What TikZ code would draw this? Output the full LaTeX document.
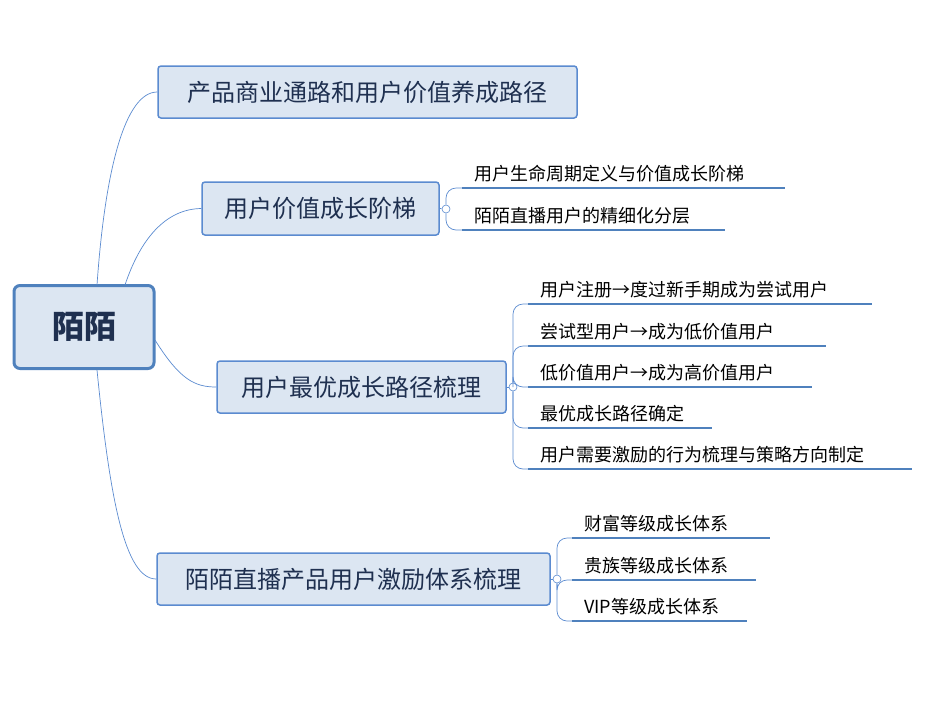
\documentclass[tikz,border=0pt]{standalone}
\usepackage{fontspec}
\setmainfont{Noto Sans CJK SC}
\definecolor{boxfill}{HTML}{DCE6F2}
\definecolor{boxline}{HTML}{5B8BD0}
\definecolor{rootline}{HTML}{4F81BD}
\definecolor{txt}{HTML}{1F3050}
\begin{document}
\begin{tikzpicture}[x=1pt,y=-1pt,
  l1/.style={draw=boxline,line width=1.5pt,fill=boxfill,rounded corners=3pt,inner sep=0pt,font=\fontsize{24}{26}\selectfont,text=txt},
  leaf/.style={anchor=base west,inner sep=0pt,font=\fontsize{18}{20}\selectfont,text=black},
  uline/.style={draw=rootline,line width=1.6pt},
  conn/.style={draw=boxline,line width=0.7pt},
  knob/.style={circle,draw=boxline,fill=white,inner sep=0pt,minimum size=8pt,line width=0.6pt}]
\useasboundingbox (0,0) rectangle (926,702);
\node[draw=rootline,line width=3pt,fill=boxfill,rounded corners=6pt,minimum width=140pt,minimum height=83pt,font=\fontsize{32}{34}\selectfont\bfseries,text=txt] (root) at (84,327) {陌陌};
\node[l1,minimum width=419pt,minimum height=52pt] (a) at (367.5,92) {产品商业通路和用户价值养成路径};
\node[l1,minimum width=237pt,minimum height=53pt] (b) at (320.5,208.5) {用户价值成长阶梯};
\node[l1,minimum width=289pt,minimum height=52pt] (c) at (361.5,387) {用户最优成长路径梳理};
\node[l1,minimum width=393pt,minimum height=52pt] (d) at (353.5,579) {陌陌直播产品用户激励体系梳理};
\draw[conn] (97,285) .. controls (105,170) and (125,92) .. (a.west);
\draw[conn] (125,285) .. controls (140,240) and (165,209) .. (b.west);
\draw[conn] (155,340) .. controls (180,380) and (195,387) .. (c.west);
\draw[conn] (97,370) .. controls (110,500) and (125,579) .. (d.west);
% group b
\node[knob] (kb) at (446,209) {};
\draw[conn] (b.east) -- (kb);
\foreach \n/\y/\xe/\t in {b1/188/785/用户生命周期定义与价值成长阶梯,b2/230/725/陌陌直播用户的精细化分层}{
  \coordinate (\n s) at (462,\y); \coordinate (\n e) at (\xe,\y);
  \node[leaf] (\n) at (474,\y-8) {\t};
  \draw[uline] (\n s) -- (\n e);
  \draw[conn,rounded corners=10pt] (kb) |- (\n s);
}
% group c
\node[knob] (kc) at (513,387) {};
\draw[conn] (c.east) -- (kc);
\foreach \n/\y/\xe/\t in {c1/304/872/用户注册→度过新手期成为尝试用户,c2/346/826/尝试型用户→成为低价值用户,c3/387/812/低价值用户→成为高价值用户,c4/428/712/最优成长路径确定,c5/469/912/用户需要激励的行为梳理与策略方向制定}{
  \coordinate (\n s) at (528,\y); \coordinate (\n e) at (\xe,\y);
  \node[leaf] (\n) at (540,\y-8) {\t};
  \draw[uline] (\n s) -- (\n e);
  \draw[conn,rounded corners=10pt] (kc) |- (\n s);
}
% group d
\node[knob] (kd) at (557,579) {};
\draw[conn] (d.east) -- (kd);
\foreach \n/\y/\xe/\t in {d1/538/770/财富等级成长体系,d2/580/756/贵族等级成长体系,d3/621/747/VIP等级成长体系}{
  \coordinate (\n s) at (572,\y); \coordinate (\n e) at (\xe,\y);
  \node[leaf] (\n) at (584,\y-8) {\t};
  \draw[uline] (\n s) -- (\n e);
  \draw[conn,rounded corners=10pt] (kd) |- (\n s);
}
\end{tikzpicture}
\end{document}
